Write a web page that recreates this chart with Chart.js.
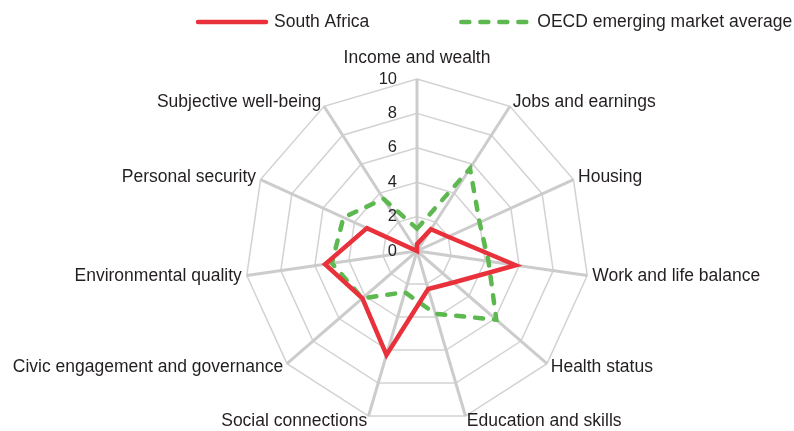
<!DOCTYPE html>
<html>
<head>
<meta charset="utf-8">
<script src="https://cdn.jsdelivr.net/npm/chart.js@4.4.0/dist/chart.umd.min.js"></script>
<style>
  html, body { margin: 0; padding: 0; background: #fff; }
  #grafico { display: block; }
</style>
</head>
<body>
<canvas id="grafico" width="794" height="431"></canvas>
<script>
const categorias = [
  "Income and wealth",
  "Jobs and earnings",
  "Housing",
  "Work and life balance",
  "Health status",
  "Education and skills",
  "Social connections",
  "Civic engagement and governance",
  "Environmental quality",
  "Personal security",
  "Subjective well-being"
];
const southAfrica = [0.4, 1.5, 2.0, 5.8, 2.8, 2.3, 6.3, 4.2, 5.4, 3.2, 0.0];
const oecdEmerging = [1.3, 5.7, 4.0, 4.2, 6.1, 3.8, 2.5, 4.2, 5.0, 4.7, 3.6];
const ticks = [0, 2, 4, 6, 8, 10];
const nomesSeries = ["South Africa", "OECD emerging market average"];

const FONTE = '"Liberation Sans", Arial, sans-serif';
const COR_TEXTO = "#231f20";

// rotulos dos eixos, numeros da escala e legenda
const rotulosPlugin = {
  id: "rotulos",
  afterDraw(chart) {
    const ctx = chart.ctx;
    const r = chart.scales.r;
    ctx.save();
    ctx.fillStyle = COR_TEXTO;
    ctx.textBaseline = "middle";

    ctx.font = "16.5px " + FONTE;
    ctx.textAlign = "right";
    ticks.forEach(v => {
      ctx.fillText(String(v), r.xCenter - 20, r.yCenter - r.getDistanceFromCenterForValue(v));
    });

    ctx.font = "17.5px " + FONTE;
    categorias.forEach((nome, i) => {
      const extra = i === 0 ? 21 : 5;
      const p = r.getPointPosition(i, r.drawingArea + extra);
      let align = "center";
      if (p.x > r.xCenter + 1) align = "left";
      else if (p.x < r.xCenter - 1) align = "right";
      ctx.textAlign = align;
      ctx.fillText(nome, p.x, p.y);
    });

    // legenda
    let x = 198;
    const y = 22;
    chart.data.datasets.forEach(ds => {
      ctx.beginPath();
      ctx.strokeStyle = ds.borderColor;
      ctx.lineWidth = 4.5;
      ctx.lineCap = "round";
      ctx.setLineDash(ds.borderDash || []);
      ctx.moveTo(x, y);
      ctx.lineTo(x + 68, y);
      ctx.stroke();
      ctx.setLineDash([]);
      ctx.textAlign = "left";
      ctx.fillText(ds.label, x + 76, y);
      x += 76 + ctx.measureText(ds.label).width + 92;
    });
    ctx.restore();
  }
};

new Chart(document.getElementById("grafico"), {
  type: "radar",
  data: {
    labels: categorias,
    datasets: [
      {
        label: nomesSeries[0],
        data: southAfrica,
        borderColor: "#e8313b",
        backgroundColor: "rgba(0,0,0,0)",
        borderWidth: 4.5,
        borderJoinStyle: "miter",
        fill: false,
        pointRadius: 0,
        pointHoverRadius: 0
      },
      {
        label: nomesSeries[1],
        data: oecdEmerging,
        borderColor: "#5cb84f",
        backgroundColor: "rgba(0,0,0,0)",
        borderWidth: 4.5,
        borderDash: [8, 11],
        borderCapStyle: "round",
        fill: false,
        pointRadius: 0,
        pointHoverRadius: 0
      }
    ]
  },
  options: {
    responsive: false,
    animation: false,
    devicePixelRatio: 1,
    layout: { padding: { top: 79, bottom: 8, left: 40, right: 0 } },
    plugins: {
      legend: { display: false },
      tooltip: { enabled: false }
    },
    scales: {
      r: {
        min: 0,
        max: 10,
        ticks: { display: false, stepSize: 2 },
        grid: { color: "#d2d2d2", lineWidth: 1.5 },
        angleLines: { color: "#cccccc", lineWidth: 3 },
        pointLabels: { display: false }
      }
    }
  },
  plugins: [rotulosPlugin]
});
</script>
</body>
</html>
